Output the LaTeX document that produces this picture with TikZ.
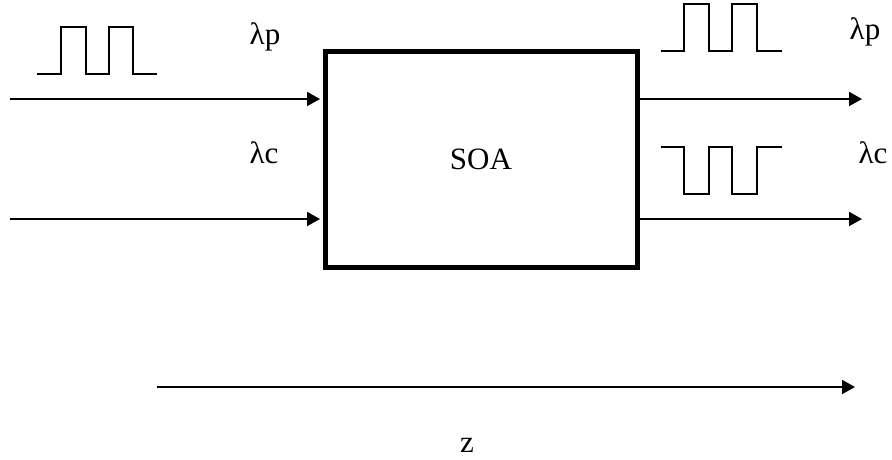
\documentclass[tikz,border=0pt]{standalone}
\usepackage{fontspec}
\setmainfont{Liberation Serif}
\usetikzlibrary{arrows.meta}

\tikzset{
  sig/.style={line width=2pt, -{Triangle[length=13pt, width=14pt]}},
  pulse/.style={line width=1.5pt, line join=miter},
  lbl/.style={anchor=base, inner sep=0pt, font=\fontsize{31}{37}\selectfont},
}

\begin{document}
\begin{tikzpicture}[x=1pt, y=-1pt]
  \useasboundingbox (0,0) rectangle (892,459);

  \node [draw, line width=5pt, minimum width=312pt, minimum height=215.5pt,
         inner sep=0pt, font=\fontsize{31}{37}\selectfont] (soa) at (481,159.25) {SOA};

  \coordinate (inp)  at (10,99);
  \coordinate (inc)  at (10,219);
  \coordinate (outp) at (862,99);
  \coordinate (outc) at (862,219);
  \coordinate (zs)   at (157,387);
  \coordinate (ze)   at (855,387);

  \draw [sig, shorten >=2.5pt] (inp) -- (soa.west |- inp);
  \draw [sig, shorten >=2.5pt] (inc) -- (soa.west |- inc);
  \draw [sig] (soa.east |- outp) -- (outp);
  \draw [sig] (soa.east |- outc) -- (outc);
  \draw [sig] (zs) -- (ze);

  \node [lbl] (lpin)  at (265,44)  {λp};
  \node [lbl] (lcin)  at (264,163) {λc};
  \node [lbl] (lpout) at (865,39)  {λp};
  \node [lbl] (lcout) at (873,163) {λc};
  \node [lbl] (zlbl)  at (467,452) {z};

  \draw [pulse] (37,74) -- (61,74) -- (61,27) -- (86,27) -- (86,74) -- (109,74)
    -- (109,27) -- (133,27) -- (133,74) -- (157,74);
  \draw [pulse] (661,51) -- (684,51) -- (684,4) -- (709,4) -- (709,51) -- (732,51)
    -- (732,4) -- (757,4) -- (757,51) -- (782,51);
  \draw [pulse] (661,147) -- (684,147) -- (684,194) -- (709,194) -- (709,147) -- (732,147)
    -- (732,194) -- (757,194) -- (757,147) -- (782,147);
\end{tikzpicture}
\end{document}
